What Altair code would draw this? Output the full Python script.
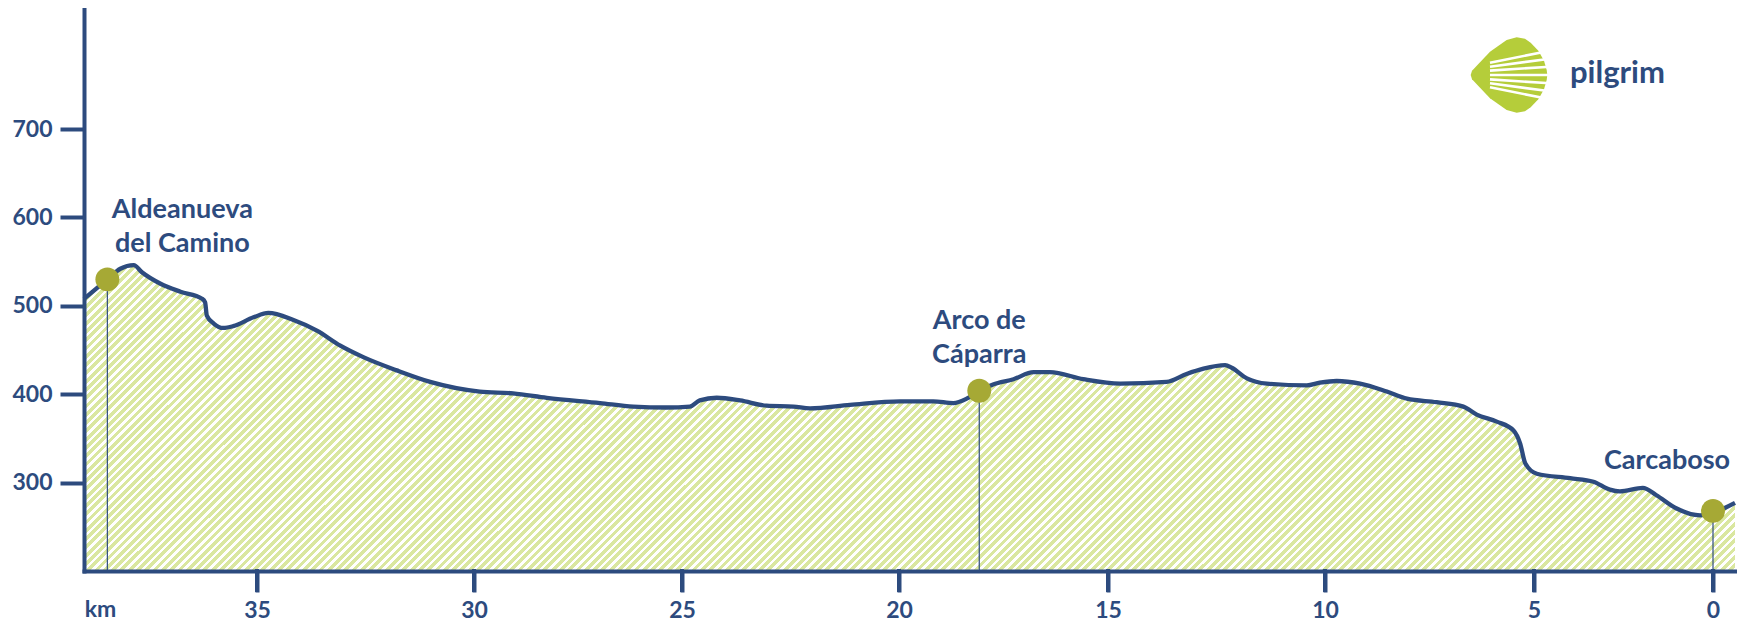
import altair as alt
import pandas as pd

# ---------------- data ----------------
km = [39.0, 38.46, 38.16, 37.85, 37.66, 37.23, 36.77, 36.27, 36.2, 36.16, 36.0, 35.78, 35.55,
      35.08, 34.74, 34.16, 33.62, 33.08, 32.55, 31.78, 31.01, 29.86, 29.06, 28.25, 26.97,
      26.17, 25.37, 24.82, 24.59, 24.2, 23.66, 23.05, 22.43, 22.05, 21.13, 19.98, 19.18,
      18.7, 18.38, 18.08, 17.75, 17.26, 16.78, 16.39, 15.59, 14.72, 13.65, 13.19, 12.8,
      12.3, 12.15, 11.8, 11.34, 10.42, 10.12, 9.72, 9.16, 8.52, 8.04, 7.33, 6.69, 6.37,
      5.89, 5.49, 5.33, 5.21, 4.92, 3.99, 3.34, 2.88, 2.6, 1.96, 1.59, 1.03, 0.36, 0.0, -0.6]
elev = [508, 530, 542, 546, 538, 525, 516, 508, 504, 489, 480, 475, 477,
        487, 492, 484, 472, 455, 442, 427, 414, 403, 401, 396, 390,
        386, 385, 386, 393, 396, 393, 387, 386, 384, 388, 392, 392,
        390, 395, 404, 411, 417, 425, 425, 417, 412, 414, 423, 429,
        433, 430, 418, 412, 410, 413, 415, 412, 403, 395, 391, 386, 377,
        369, 359, 344, 322, 310, 305, 301, 292, 290, 294, 286, 271, 263, 266, 277]

station_names = ["Aldeanueva\ndel Camino", "Arco de\nCáparra", "Carcaboso"]
station_km = [38.46, 18.08, 0.0]
station_elev = [530, 404, 268]

x_ticks = [35, 30, 25, 20, 15, 10, 5, 0]
y_ticks = [300, 400, 500, 600, 700]
axis_unit = ["km"]
axis_unit_km = [38.62]
logo_text = "pilgrim"

# ---------------- style / layout ----------------
NAVY = "#2d4b7e"
OLIVE = "#a6a935"
HATCH = "#dae7a0"
LOGO_GREEN = "#b5cd3a"
FONT = "Lato"
W, H = 1651, 563
BASE = 200
X_TICK_LEN = 21

# piecewise x scale (the drawing's km axis is not evenly spaced)
x_breaks = [39, 35, 30, 25, 20, 15, 10, 5, 0, -0.6]
x_range = [0, 173, 390, 598, 815, 1024, 1241, 1450, 1629, 1651]
x_scale = alt.Scale(domain=x_breaks, range=x_range, nice=False, zero=False)
y_scale = alt.Scale(domain=[BASE, 837], nice=False, zero=False)

x_axis = alt.Axis(values=x_ticks, title=None, grid=False, domainColor=NAVY, domainWidth=4,
                  domainCap="square", ticks=True, tickColor=NAVY, tickWidth=4,
                  tickSize=X_TICK_LEN, tickOpacity=1, labelFont=FONT, labelFontSize=23,
                  labelFontWeight="bold", labelColor=NAVY, labelBaseline="alphabetic",
                  labelPadding=25, labelFlush=False, labelOverlap=False, format="d", zindex=1)
y_axis = alt.Axis(values=y_ticks, title=None, grid=False, domainColor=NAVY, domainWidth=4,
                  domainCap="square", ticks=True, tickColor=NAVY, tickWidth=4, tickSize=24,
                  tickOpacity=1, labelFont=FONT, labelFontSize=23, labelFontWeight="bold",
                  labelColor=NAVY, labelPadding=8, labelFlush=False, labelOverlap=False,
                  format="d", zindex=1)

X = alt.X("km:Q", scale=x_scale, axis=x_axis)
Y = alt.Y("elev:Q", scale=y_scale, axis=y_axis)

# diagonal hatch as a striped linear gradient over the area's bounding box
h_area = 306.0
r = h_area / W
a = (1 + r) / (1 + r * r)
period = 8.3
n_stripes = int(round((W + h_area) / period))
frac = 0.58
stops = []
for k in range(n_stripes):
    o1 = k / n_stripes
    o2 = (k + frac) / n_stripes
    o3 = (k + 1) / n_stripes
    stops += [alt.GradientStop(offset=o1, color=HATCH), alt.GradientStop(offset=o2, color=HATCH),
              alt.GradientStop(offset=o2, color="#ffffff"), alt.GradientStop(offset=o3, color="#ffffff")]
hatch = alt.LinearGradient(gradient="linear", stops=stops, x1=0, y1=0, x2=a, y2=a * r)

profile = pd.DataFrame({"km": km, "elev": elev})
stations = pd.DataFrame({"km": station_km, "elev": station_elev, "name": station_names,
                         "idx": list(range(len(station_names)))})
ticks_df = pd.DataFrame({"km": x_ticks})

area = alt.Chart(profile).mark_area(interpolate="monotone", color=hatch, opacity=1).encode(
    X, Y, y2=alt.datum(BASE))
line = alt.Chart(profile).mark_line(interpolate="monotone", color=NAVY, strokeWidth=4.3,
                                    strokeJoin="round").encode(X, Y)
rules = alt.Chart(stations).mark_rule(color=NAVY, strokeWidth=1.2).encode(X, Y, y2=alt.datum(BASE))
dots = alt.Chart(stations).mark_circle(size=572, color=OLIVE, opacity=1).encode(X, Y)
xticks = alt.Chart(ticks_df).mark_rule(color=NAVY, strokeWidth=4).encode(
    X, y=alt.value(H - 2), y2=alt.value(H + X_TICK_LEN))

label_offsets = [(75, -61), (0, -62), (-46, -42)]
label_layers = []
for i, (dx, dy) in enumerate(label_offsets):
    label_layers.append(
        alt.Chart(stations).transform_filter(f"datum.idx == {i}").mark_text(
            align="center", baseline="alphabetic", dx=dx, dy=dy, lineBreak="\n", lineHeight=34,
            font=FONT, fontSize=27, fontWeight="bold", color=NAVY
        ).encode(X, Y, text="name:N")
    )

unit_df = pd.DataFrame({"km": axis_unit_km, "label": axis_unit})
unit = alt.Chart(unit_df).mark_text(align="center", baseline="alphabetic", font=FONT, fontSize=23,
                                    fontWeight="bold", color=NAVY).encode(
    X, y=alt.value(H + 46), text="label:N")

# logo
shell_path = ("M-0.965,-0.113 L-0.496,-0.609 L-0.061,-0.913 L0.2,-0.983 L0.417,-0.948 "
              "L0.565,-0.843 L0.765,-0.635 L0.913,-0.374 L0.983,-0.13 L1,0 L0.983,0.13 "
              "L0.913,0.374 L0.765,0.635 L0.565,0.843 L0.417,0.948 L0.2,0.983 L-0.061,0.913 "
              "L-0.496,0.609 L-0.965,0.113 L-1,0 Z")
ray_path = ("M-0.496,-0.322 L1.07,-0.635 M-0.496,-0.217 L1.07,-0.426 M-0.496,-0.113 L1.07,-0.217 "
            "M-0.496,0 L1.07,0 M-0.496,0.113 L1.07,0.217 M-0.496,0.217 L1.07,0.426 "
            "M-0.496,0.322 L1.07,0.635")
one = pd.DataFrame({"a": [0]})
shell = alt.Chart(one).mark_point(shape=shell_path, size=5878, filled=True, fill=LOGO_GREEN,
                                  strokeWidth=0, opacity=1).encode(
    x=alt.value(1425), y=alt.value(67))
rays = alt.Chart(one).mark_point(shape=ray_path, size=5878, filled=False, stroke="#ffffff",
                                 strokeWidth=2.6, opacity=1).encode(
    x=alt.value(1425), y=alt.value(67))
brand = alt.Chart(one).mark_text(text=logo_text, align="left", baseline="alphabetic", font=FONT,
                                 fontSize=31, fontWeight="bold", color=NAVY).encode(
    x=alt.value(1486), y=alt.value(75))

chart = alt.layer(area, line, rules, dots, xticks, *label_layers, unit, shell, rays,
                  brand).properties(
    width=W, height=H,
    autosize=alt.AutoSizeParams(type="none"),
    padding={"left": 76, "top": 0, "right": 2, "bottom": 50},
    background="#ffffff",
).configure_view(strokeWidth=0)

chart.save("out.html", embed_options={"renderer": "svg", "actions": False})
